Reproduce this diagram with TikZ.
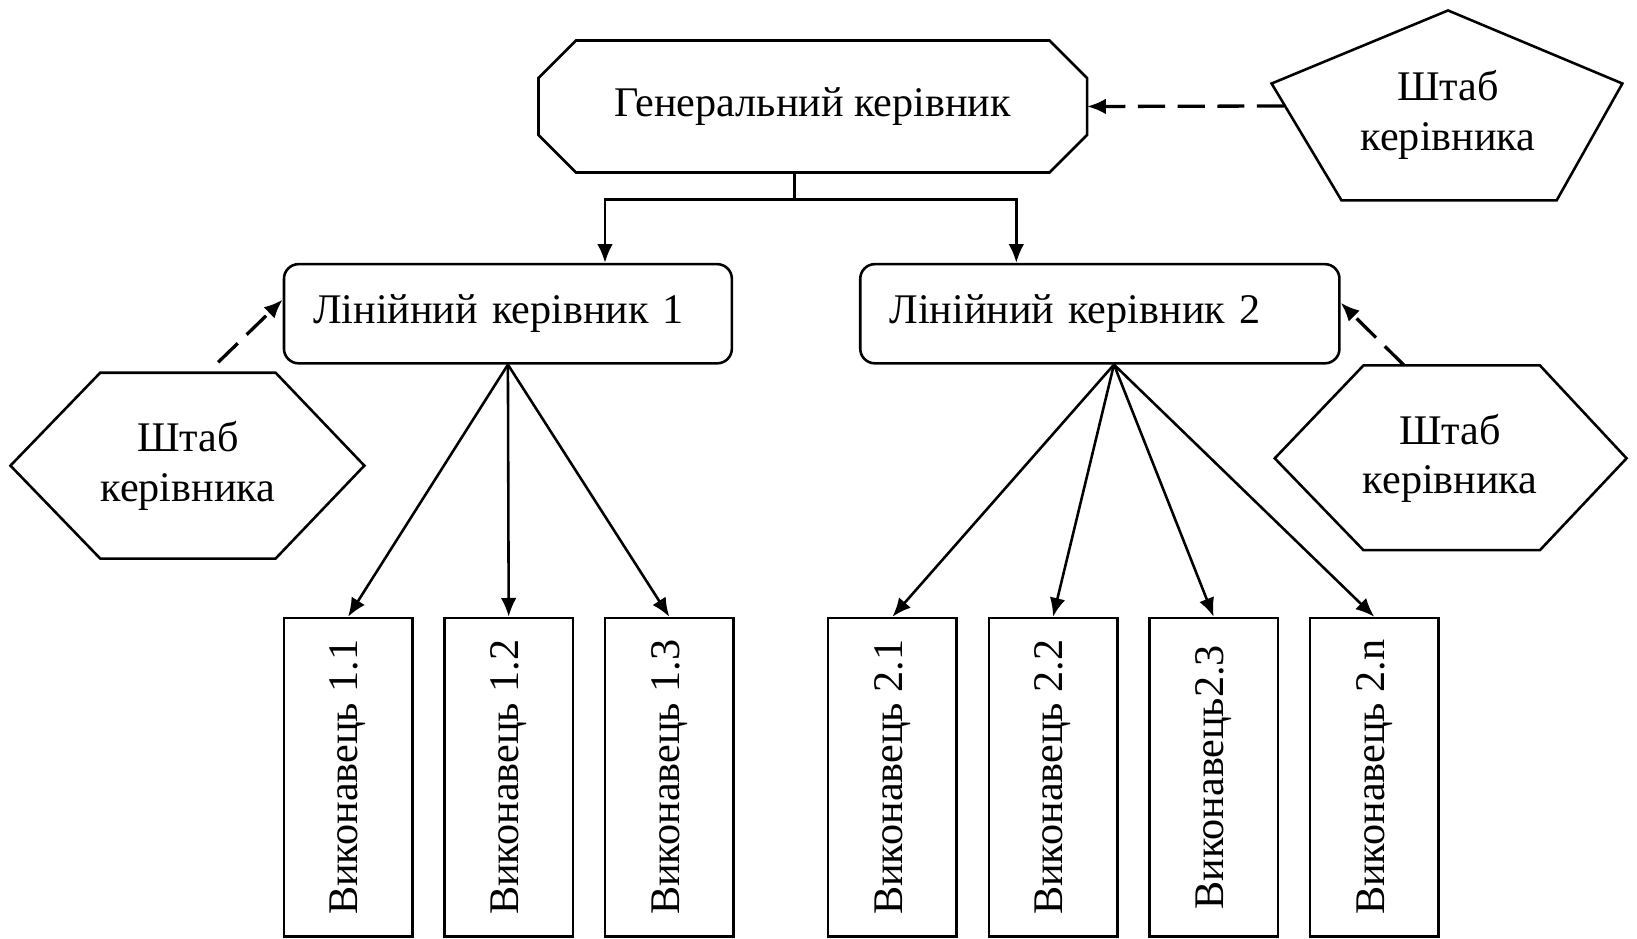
\documentclass[tikz,border=0pt]{standalone}
\usepackage{fontspec}
\setmainfont{Liberation Serif}
\usetikzlibrary{arrows.meta, positioning}
\tikzset{
  txt/.style   ={font=\fontsize{11.5}{13.5}\selectfont, inner sep=0pt},
  boss/.style  ={txt, minimum width=52.3mm, minimum height=12.4mm},
  lead/.style  ={txt, draw, rounded corners=1.4mm, minimum height=9.5mm,
                 inner xsep=2.8mm, align=left},
  worker/.style={txt, draw, minimum width=12.3mm, minimum height=30.5mm},
  staff/.style ={txt, align=center},
  flow/.style  ={-{Latex[length=1.8mm,width=1.5mm]}},
  flowd/.style ={flow, line width=0.9pt, dash pattern=on 2.6mm off 1.2mm}
}

\begin{document}
\begin{tikzpicture}[x=0.1mm, y=-0.1mm, line width=0.7pt, node distance=2.84mm]

  \useasboundingbox (0,0) rectangle (1568,899);

  \node[boss]                    (boss)  at (778.5,102) {Генеральний керівник};
  \node[lead, text width=37.3mm] (lead1) at (486.5,300.5) {Лінійний керівник 1};
  \node[lead, text width=40.3mm] (lead2) at (1053.5,300.5) {Лінійний керівник 2};

  \draw ([xshift=3.6mm]boss.north west) -- ([xshift=-3.6mm]boss.north east)
     -- ([yshift=-3.6mm]boss.north east) -- ([yshift=3.6mm]boss.south east)
     -- ([xshift=-3.6mm]boss.south east) -- ([xshift=3.6mm]boss.south west)
     -- ([yshift=3.6mm]boss.south west) -- ([yshift=-3.6mm]boss.north west) -- cycle;

  % staff shapes
  \draw (1387,10) -- (1554,80) -- (1491,192) -- (1285,192) -- (1218,80) -- cycle;
  \node[staff] (staff0) at (1387,110) {Штаб\\керівника};
  \coordinate (staff0a) at (1230,101.5);

  \draw (10,446) -- (96,357) -- (264,357) -- (349,446) -- (264,535) -- (96,535) -- cycle;
  \node[staff] (staff1) at (180,446) {Штаб\\керівника};
  \coordinate (staff1a) at (209,347);

  \draw (1221,439) -- (1306,350) -- (1475,350) -- (1558,439) -- (1475,527) -- (1306,527) -- cycle;
  \node[staff] (staff2) at (1389,439) {Штаб\\керівника};
  \coordinate (staff2a) at (1345,350);

  \node[worker]                (w11) at (333.4,744.5) {\rotatebox{90}{Виконавець 1.1}};
  \node[worker, right=of w11]  (w12) {\rotatebox{90}{Виконавець 1.2}};
  \node[worker, right=of w12]  (w13) {\rotatebox{90}{Виконавець 1.3}};

  \node[worker]                (w21) at (854.8,744.5) {\rotatebox{90}{Виконавець 2.1}};
  \node[worker, right=of w21]  (w22) {\rotatebox{90}{Виконавець 2.2}};
  \node[worker, right=of w22]  (w23) {\rotatebox{90}{Виконавець2.3}};
  \node[worker, right=of w23]  (w2n) {\rotatebox{90}{Виконавець 2.n}};

  \draw ([xshift=-1.75mm]boss.south) -- ++(0,26) coordinate (fork);
  \draw[flow] (fork) -| ([xshift=9.3mm]lead1.north);
  \draw[flow] (fork) -| ([xshift=-8mm]lead2.north);

  \draw[flowd] (staff0a) -- (boss.east);
  \draw[flowd] (staff1a) -- ([yshift=1.35mm]lead1.west);
  \draw[flowd] (staff2a) -- ([yshift=1.05mm]lead2.east);

  \foreach \w in {w11,w12,w13}
    \draw[flow] (lead1.south) -- (\w.north);
  \foreach \w in {w21,w22,w23,w2n}
    \draw[flow] ([xshift=1.35mm]lead2.south) -- (\w.north);

\end{tikzpicture}
\end{document}
